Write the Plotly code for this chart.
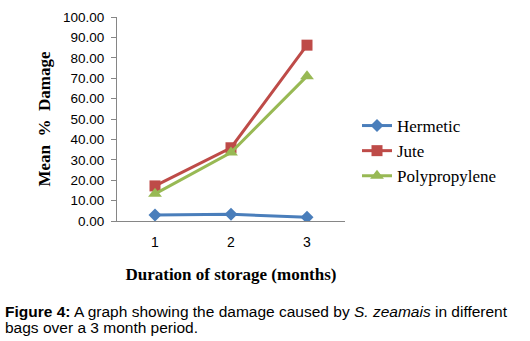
import plotly.graph_objects as go

months = ["1", "2", "3"]
hermetic = [2.9, 3.3, 1.8]
jute = [17.2, 35.9, 86.2]
polypropylene = [13.3, 33.6, 71.0]
y_ticks = [0, 10, 20, 30, 40, 50, 60, 70, 80, 90, 100]

fig = go.Figure()
fig.add_trace(go.Scatter(x=months, y=hermetic, name="Hermetic", mode="lines+markers",
                         line=dict(color="#4A7EBB", width=3),
                         marker=dict(symbol="diamond", size=10, color="#4A7EBB")))
fig.add_trace(go.Scatter(x=months, y=jute, name="Jute", mode="lines+markers",
                         line=dict(color="#BE4B48", width=3),
                         marker=dict(symbol="square", size=11, color="#BE4B48")))
fig.add_trace(go.Scatter(x=months, y=polypropylene, name="Polypropylene", mode="lines+markers",
                         line=dict(color="#98B954", width=3),
                         marker=dict(symbol="triangle-up", size=12, color="#98B954")))

PW = 228.0
PH = 204.0
fig.update_layout(
    width=530, height=341,
    margin=dict(l=117, r=185, t=17, b=120, autoexpand=False),
    paper_bgcolor="white", plot_bgcolor="white",
    showlegend=True,
    legend=dict(x=(357 - 117) / PW, y=(221 - 108) / PH, xanchor="left", yanchor="top",
                font=dict(family="Liberation Serif", size=17, color="black"),
                tracegroupgap=0, itemwidth=30, bgcolor="rgba(0,0,0,0)"),
    xaxis=dict(type="category", range=[-0.5, 2.5], showline=True, linecolor="#868686",
               linewidth=1, ticks="", showgrid=False, zeroline=False, automargin=False,
               ticklabelstandoff=8,
               tickfont=dict(family="Liberation Sans", size=14, color="black"),
               title=dict(text="<b>Duration of storage (months)</b>",
                          font=dict(family="Liberation Serif", size=17, color="black"),
                          standoff=19)),
    yaxis=dict(range=[0, 100], tickvals=y_ticks, tickformat=".2f", showline=True,
               linecolor="#868686", linewidth=1, ticks="outside", ticklen=5, tickcolor="#868686",
               showgrid=False, zeroline=False, automargin=False,
               ticklabelstandoff=4,
               tickfont=dict(family="Liberation Sans", size=13.5, color="black"),
               title=dict(text="<b>Mean  %  Damage</b>",
                          font=dict(family="Liberation Serif", size=17, color="black"),
                          standoff=8)),
)

fig.add_annotation(
    text="<b>Figure 4:</b> A graph showing the damage caused by <i>S. zeamais</i> in different",
    xref="paper", yref="paper", x=(3 - 117) / PW, y=(221 - 311) / PH, xanchor="left", yanchor="middle",
    showarrow=False, align="left",
    font=dict(family="Liberation Sans", size=15.5, color="black"))
fig.add_annotation(
    text="bags over a 3 month period.",
    xref="paper", yref="paper", x=(3 - 117) / PW, y=(221 - 327) / PH, xanchor="left", yanchor="middle",
    showarrow=False, align="left",
    font=dict(family="Liberation Sans", size=15.5, color="black"))

fig.write_html("out.html", config={"displayModeBar": False},
               post_script="document.body.style.margin='0';")
